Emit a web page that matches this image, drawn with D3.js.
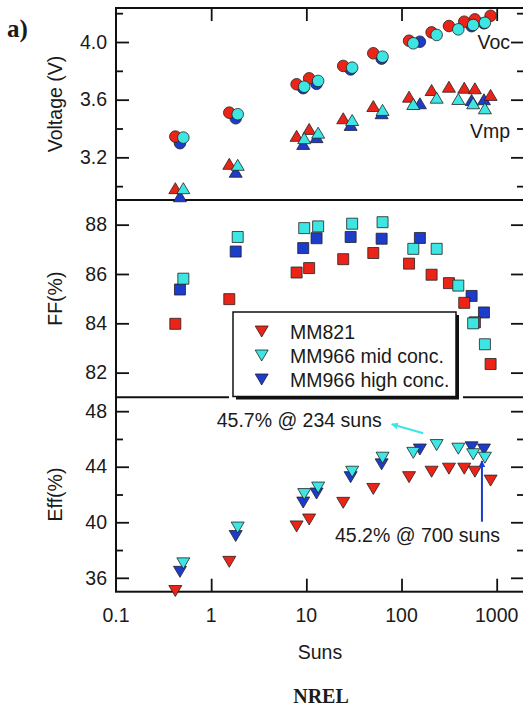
<!DOCTYPE html>
<html>
<head>
<meta charset="utf-8">
<script src="https://cdn.jsdelivr.net/npm/d3@7"></script>
<style>
  html, body { margin: 0; padding: 0; background: #fff; }
  svg { display: block; }
  text { font-family: "Liberation Sans", Arial, Helvetica, sans-serif; fill: #1a1a1a; }
</style>
</head>
<body>
<div id="chart"></div>
<script>
// data (Suns on a log axis)
const sunsRed  = [0.42, 1.55, 7.9, 10.7, 24.4, 50.5, 120, 207, 315, 456, 590, 863];
const vocRed   = [3.344, 3.51, 3.707, 3.748, 3.834, 3.922, 4.009, 4.067, 4.111, 4.141, 4.157, 4.182];
const vmpRed   = [2.986, 3.155, 3.349, 3.397, 3.471, 3.556, 3.621, 3.667, 3.69, 3.683, 3.679, 3.633];
const ffRed    = [83.98, 84.98, 86.06, 86.24, 86.6, 86.85, 86.42, 85.97, 85.63, 84.83, 84.04, 82.35];
const effRed   = [35.05, 37.15, 39.7, 40.2, 41.4, 42.4, 43.25, 43.64, 43.86, 43.86, 43.64, 43.0];

const sunsMid  = [0.51, 1.9, 9.5, 13.3, 30.3, 63.2, 133, 234, 395, 566, 752];
const vocMid   = [3.337, 3.499, 3.69, 3.73, 3.822, 3.898, 3.991, 4.049, 4.088, 4.118, 4.134];
const vmpMid   = [2.986, 3.148, 3.333, 3.371, 3.459, 3.529, 3.570, 3.614, 3.605, 3.575, 3.54];
const ffMid    = [85.81, 87.5, 87.86, 87.93, 88.04, 88.1, 87.02, 87.02, 85.53, 84.0, 83.15];
const effMid   = [37.04, 39.62, 42.03, 42.5, 43.64, 44.65, 45.0, 45.56, 45.3, 44.9, 44.65];

const sunsHigh = [0.47, 1.81, 9.27, 12.8, 29.2, 61.8, 156, 545, 735];
const vocHigh  = [3.298, 3.471, 3.68, 3.71, 3.81, 3.885, 4.002, 4.11, 4.13];
const vmpHigh  = [2.93, 3.10, 3.293, 3.34, 3.425, 3.506, 3.575, 3.598, 3.603];
const ffHigh   = [85.37, 86.91, 87.05, 87.45, 87.5, 87.43, 87.46, 85.11, 84.44];
const effHigh  = [36.43, 39.01, 41.42, 42.07, 43.25, 44.17, 45.24, 45.4, 45.24];

const seriesNames = ['MM821', 'MM966 mid conc.', 'MM966 high conc.'];
const xTicks = [1, 10, 100, 1000];
const xTickLabels = [0.1, 1, 10, 100, 1000];
const vTicks = [3.2, 3.6, 4.0], vMinor = [3.0, 3.4, 3.8, 4.2];
const ffTicks = [82, 84, 86, 88];
const effTicks = [36, 40, 44, 48], effMinor = [38, 42, 46];

const colors = {red: '#ec2418', mid: '#3de6e2', high: '#1c3ccc'};

const width = 523, height = 709;
const left = 116, right = 524;
const fs = 19.5;

const svg = d3.select('#chart').append('svg')
    .attr('width', width).attr('height', height);

const x = d3.scaleLog().domain([0.1, 1936]).range([left, right]);
const yV = d3.scaleLinear().domain([2.904, 4.236]).range([200, 8]);
const yFF = d3.scaleLinear().domain([81, 89]).range([397.3, 200]);
const yEff = d3.scaleLinear().domain([35, 49]).range([591.7, 397.3]);

const shapes = {
    circle: 'M5.8,0A5.8,5.8,0,1,1,-5.8,0A5.8,5.8,0,1,1,5.8,0Z',
    square: 'M-5.5,-5.5h11v11h-11Z',
    up: 'M0,-5.5L6.5,5.5L-6.5,5.5Z',
    down: 'M-6.5,-5.5L6.5,-5.5L0,5.5Z'
};

// y axes, left and right, ticks inward
const yAxis = (scale, ticks, minor, fmt) => {
    svg.append('g').attr('transform', `translate(${left},0)`)
        .call(d3.axisLeft(scale).tickValues(ticks).tickSize(-13).tickPadding(9).tickFormat(fmt));
    svg.append('g').attr('transform', `translate(${right},0)`)
        .call(d3.axisRight(scale).tickValues(ticks).tickSize(-13).tickFormat(''));
    if (minor) {
        svg.append('g').attr('transform', `translate(${left},0)`)
            .call(d3.axisLeft(scale).tickValues(minor).tickSize(-7).tickFormat(''));
        svg.append('g').attr('transform', `translate(${right},0)`)
            .call(d3.axisRight(scale).tickValues(minor).tickSize(-7).tickFormat(''));
    }
};
yAxis(yV, vTicks, vMinor, d3.format('.1f'));
yAxis(yFF, ffTicks, null, d3.format('d'));
yAxis(yEff, effTicks, effMinor, d3.format('d'));

// x axes
svg.append('g').attr('transform', 'translate(0,591.7)')
    .call(d3.axisBottom(x).tickValues(xTicks).tickSize(-13).tickFormat(''));
svg.append('g').attr('transform', 'translate(0,8)')
    .call(d3.axisTop(x).tickValues(xTicks).tickSize(-13).tickFormat(''));
svg.append('g').selectAll('text').data(xTickLabels).join('text')
    .attr('x', d => x(d)).attr('y', 622).attr('text-anchor', 'middle')
    .style('font-size', fs + 'px').text(d => d);

svg.selectAll('.domain').remove();
svg.selectAll('.tick line').attr('stroke', '#111').attr('stroke-width', 1.8);
svg.selectAll('.tick text').style('font-size', fs + 'px').attr('fill', '#1a1a1a');

// frame
const frame = svg.append('g').attr('stroke', '#111').attr('stroke-width', 2).attr('fill', 'none');
frame.append('rect').attr('x', left).attr('y', 8).attr('width', right - left).attr('height', 591.7 - 8);
[200, 397.3].forEach(y => frame.append('line').attr('x1', left).attr('x2', right).attr('y1', y).attr('y2', y));

// axis titles
const ytitle = (txt, cy) => svg.append('text')
    .attr('transform', `translate(62,${cy}) rotate(-90)`)
    .attr('text-anchor', 'middle').style('font-size', fs + 'px').text(txt);
ytitle('Voltage (V)', 104);
ytitle('FF(%)', 298.7);
ytitle('Eff(%)', 494.5);
svg.append('text').attr('x', 320).attr('y', 659).attr('text-anchor', 'middle')
    .style('font-size', fs + 'px').text('Suns');
svg.append('text').attr('x', 321).attr('y', 703).attr('text-anchor', 'middle')
    .style('font-family', '"Liberation Serif", "Times New Roman", serif')
    .style('font-weight', 'bold').style('font-size', '20px').text('NREL');
svg.append('text').attr('x', 7).attr('y', 37)
    .style('font-family', '"Liberation Serif", "Times New Roman", serif')
    .style('font-weight', 'bold').style('font-size', '25px').text('a)');

// Voc / Vmp labels
svg.append('text').attr('x', 510).attr('y', yV(4.0)).attr('dy', '0.36em')
    .attr('text-anchor', 'end').style('font-size', fs + 'px').text('Voc');
svg.append('text').attr('x', 510).attr('y', 131).attr('dy', '0.36em')
    .attr('text-anchor', 'end').style('font-size', fs + 'px').text('Vmp');

// markers: blue under red under cyan
const drawSeries = (suns, vals, yScale, shape, color) => {
    svg.append('g').selectAll('path').data(suns).join('path')
        .attr('d', shapes[shape])
        .attr('transform', (d, i) => `translate(${x(d)},${yScale(vals[i])})`)
        .attr('fill', color).attr('stroke', '#222').attr('stroke-width', 0.8);
};
const layers = [
    [sunsHigh, vocHigh, vmpHigh, ffHigh, effHigh, colors.high],
    [sunsRed, vocRed, vmpRed, ffRed, effRed, colors.red],
    [sunsMid, vocMid, vmpMid, ffMid, effMid, colors.mid]
];
layers.forEach(([s, voc, vmp, ff, eff, c]) => {
    drawSeries(s, voc, yV, 'circle', c);
    drawSeries(s, vmp, yV, 'up', c);
    drawSeries(s, ff, yFF, 'square', c);
    drawSeries(s, eff, yEff, 'down', c);
});

// legend box with shadow
const lg = svg.append('g');
lg.append('rect').attr('x', 229).attr('y', 309).attr('width', 234).attr('height', 92).attr('fill', '#fff');
lg.append('rect').attr('x', 236).attr('y', 315).attr('width', 223).attr('height', 84.5).attr('fill', '#111');
lg.append('rect').attr('x', 233).attr('y', 312).attr('width', 223).attr('height', 84.5)
    .attr('fill', '#fff').attr('stroke', '#111').attr('stroke-width', 1.5);
const legendColors = [colors.red, colors.mid, colors.high];
seriesNames.forEach((name, i) => {
    const cy = 331.5 + i * 24;
    lg.append('path').attr('d', shapes.down).attr('transform', `translate(261.7,${cy})`)
        .attr('fill', legendColors[i]).attr('stroke', '#222').attr('stroke-width', 0.8);
    lg.append('text').attr('x', 290).attr('y', cy).attr('dy', '0.36em')
        .style('font-size', fs + 'px').text(name);
});

// annotations
const defs = svg.append('defs');
[['ahMid', colors.mid], ['ahHigh', colors.high]].forEach(([id, c]) => {
    defs.append('marker').attr('id', id).attr('viewBox', '0 0 10 10')
        .attr('refX', 9).attr('refY', 5).attr('markerWidth', 7).attr('markerHeight', 7)
        .attr('markerUnits', 'userSpaceOnUse').attr('orient', 'auto')
        .append('path').attr('d', 'M0,0L10,5L0,10Z').attr('fill', c);
});
svg.append('text').attr('x', 216.7).attr('y', 427).style('font-size', fs + 'px').text('45.7% @ 234 suns');
svg.append('line').attr('x1', 423.3).attr('y1', 433.3).attr('x2', 391.7).attr('y2', 424.3)
    .attr('stroke', colors.mid).attr('stroke-width', 2).attr('marker-end', 'url(#ahMid)');
svg.append('text').attr('x', 335).attr('y', 542).style('font-size', fs + 'px').text('45.2% @ 700 suns');
svg.append('line').attr('x1', x(700)).attr('y1', 521.7).attr('x2', x(700)).attr('y2', 461)
    .attr('stroke', colors.high).attr('stroke-width', 2).attr('marker-end', 'url(#ahHigh)');
</script>
</body>
</html>
